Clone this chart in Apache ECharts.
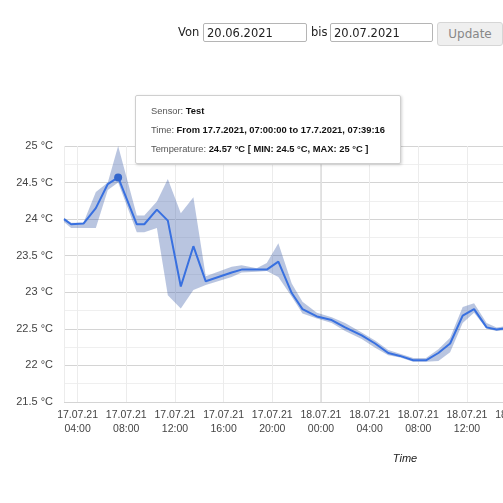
<!DOCTYPE html>
<html>
  <head>
    <meta charset="utf-8" />
    <title>Sensor</title>
    <script src="https://cdn.jsdelivr.net/npm/echarts@6/dist/echarts.min.js"></script>
    <style>
      body {
        margin: 0;
        background-color: #fff;
        overflow: hidden;
        width: 503px;
        height: 503px;
        position: relative;
      }
      .form span, .form input, .form button {
        position: absolute;
        font-family: "DejaVu Sans", Verdana, sans-serif;
        font-size: 11.5px;
        color: #222;
      }
      .form input {
        box-sizing: border-box;
        height: 19px;
        border: 1px solid #b5b5b5;
        border-radius: 2px;
        padding: 0 3px;
      }
      .form button {
        box-sizing: border-box;
        height: 24px;
        background: #efefef;
        border: 1px solid #d6d6d6;
        border-radius: 3px;
        color: #888;
        font-size: 12px;
      }
      #chart {
        position: absolute;
        left: 0;
        top: 0;
        width: 760px;
        height: 503px;
      }
    </style>
  </head>
  <body>
    <div id="chart"></div>
    <div class="form">
      <span style="left:178px; top:25px;">Von</span>
      <input style="left:203px; top:23px; width:104px;" value="20.06.2021" />
      <span style="left:311px; top:25px;">bis</span>
      <input style="left:330px; top:23px; width:103px;" value="20.07.2021" />
      <button style="left:437px; top:22px; width:66px;">Update</button>
    </div>
    <script>
      // Messzeitpunkte (Stundenmittel)
      var times = [
        '2021-07-17 02:53', '2021-07-17 03:28', '2021-07-17 04:29', '2021-07-17 05:30',
        '2021-07-17 06:29', '2021-07-17 07:20', '2021-07-17 08:52', '2021-07-17 09:29',
        '2021-07-17 10:31', '2021-07-17 11:25', '2021-07-17 12:29', '2021-07-17 13:31',
        '2021-07-17 14:32', '2021-07-17 16:40', '2021-07-17 17:29', '2021-07-17 18:43',
        '2021-07-17 19:33', '2021-07-17 20:30', '2021-07-17 21:36', '2021-07-17 22:29',
        '2021-07-17 23:40', '2021-07-18 00:53', '2021-07-18 01:59', '2021-07-18 03:21',
        '2021-07-18 04:27', '2021-07-18 05:32', '2021-07-18 06:30', '2021-07-18 07:35',
        '2021-07-18 08:38', '2021-07-18 09:39', '2021-07-18 10:37', '2021-07-18 11:39',
        '2021-07-18 12:35', '2021-07-18 13:37', '2021-07-18 14:26', '2021-07-18 15:40'
      ];
      var avgTemp = [
        24.00, 23.93, 23.94, 24.15, 24.48, 24.57, 23.93, 23.93,
        24.13, 23.98, 23.08, 23.63, 23.15, 23.27, 23.31, 23.31,
        23.31, 23.42, 22.99, 22.77, 22.67, 22.62, 22.52, 22.41,
        22.30, 22.17, 22.13, 22.07, 22.07, 22.17, 22.30, 22.68,
        22.77, 22.52, 22.49, 22.52
      ];
      var minTemp = [
        23.96, 23.88, 23.88, 23.88, 24.40, 24.50, 23.82, 23.82,
        23.88, 22.96, 22.78, 23.03, 23.10, 23.21, 23.27, 23.28,
        23.29, 23.21, 22.94, 22.71, 22.64, 22.58, 22.47, 22.36,
        22.24, 22.14, 22.11, 22.05, 22.05, 22.06, 22.18, 22.58,
        22.72, 22.50, 22.47, 22.49
      ];
      var maxTemp = [
        24.02, 23.95, 23.95, 24.37, 24.50, 25.00, 24.05, 24.05,
        24.24, 24.55, 24.08, 24.30, 23.22, 23.35, 23.37, 23.33,
        23.40, 23.67, 23.12, 22.87, 22.72, 22.66, 22.58, 22.45,
        22.34, 22.21, 22.16, 22.10, 22.10, 22.22, 22.38, 22.80,
        22.85, 22.58, 22.52, 22.55
      ];
      var xMin = '2021-07-17 02:53';
      var xMax = '2021-07-19 10:56';
      var dayLine = '2021-07-18 00:00';

      var fmt = function(n) { return (n < 10 ? '0' : '') + n; };

      var chart = echarts.init(document.getElementById('chart'));
      var option = {
        animation: false,
        textStyle: { fontFamily: '"Liberation Sans", Arial, sans-serif' },
        grid: { left: 64, top: 146, width: 682, height: 256 },
        tooltip: {
          trigger: 'item',
          triggerOn: 'none',
          alwaysShowContent: true,
          transitionDuration: 0,
          position: [135, 95],
          padding: [6, 15, 4, 15],
          backgroundColor: '#fff',
          borderColor: '#cfcfcf',
          borderWidth: 1,
          borderRadius: 2,
          extraCssText: 'box-shadow: 1px 1px 3px rgba(0,0,0,0.18);',
          formatter: function(p) {
            var i = p.dataIndex;
            var lab = 'color:#555;font-weight:normal;';
            return '<div style="font-family:\'Liberation Sans\',Arial;font-size:9.35px;line-height:19px;color:#111;white-space:nowrap;">' +
              '<span style="' + lab + '">Sensor: </span><b>Test</b><br/>' +
              '<span style="' + lab + '">Time: </span><b>From 17.7.2021, 07:00:00 to 17.7.2021, 07:39:16</b><br/>' +
              '<span style="' + lab + '">Temperature: </span><b>' + avgTemp[i] + ' °C [ MIN: ' + minTemp[i] +
              ' °C, MAX: ' + maxTemp[i] + ' °C ]</b></div>';
          }
        },
        xAxis: {
          type: 'time',
          min: xMin,
          max: xMax,
          minInterval: 4 * 3600 * 1000,
          maxInterval: 4 * 3600 * 1000,
          name: 'Time',
          nameLocation: 'middle',
          nameGap: 51,
          nameTextStyle: { fontStyle: 'italic', fontSize: 11, color: '#222' },
          axisLine: { show: false },
          axisTick: { show: false },
          axisLabel: {
            fontSize: 10.5,
            color: '#444',
            lineHeight: 14,
            margin: 6,
            showMinLabel: false,
            showMaxLabel: false,
            hideOverlap: false,
            formatter: function(v) {
              var d = new Date(v);
              if (d.getMinutes() !== 0 || d.getHours() % 4 !== 0) return '';
              return fmt(d.getDate()) + '.' + fmt(d.getMonth() + 1) + '.' + String(d.getFullYear()).slice(2) +
                '\n' + fmt(d.getHours()) + ':00';
            }
          },
          splitLine: { show: true, lineStyle: { color: '#ececec', width: 1 } }
        },
        yAxis: {
          type: 'value',
          min: 21.5,
          max: 25,
          interval: 0.5,
          axisLine: { show: false },
          axisTick: { show: false },
          axisLabel: { fontSize: 11, color: '#444', margin: 11, formatter: '{value} °C' },
          splitLine: { lineStyle: { color: '#d4d4d4' } },
          minorTick: { show: false, splitNumber: 2 },
          minorSplitLine: { show: true, lineStyle: { color: '#efefef' } }
        },
        series: [
          {
            name: 'min',
            type: 'line',
            stack: 'band',
            silent: true,
            symbol: 'none',
            z: 1,
            lineStyle: { opacity: 0 },
            data: times.map(function(t, i) { return [t, minTemp[i]]; }),
            markLine: {
              silent: true,
              symbol: 'none',
              z: 1,
              label: { show: false },
              lineStyle: { color: '#dddddd', width: 1.5, type: 'solid' },
              data: [{ xAxis: dayLine }]
            }
          },
          {
            name: 'range',
            type: 'line',
            stack: 'band',
            silent: true,
            symbol: 'none',
            z: 2,
            lineStyle: { opacity: 0 },
            areaStyle: { color: 'rgba(60,95,170,0.36)', opacity: 1 },
            data: times.map(function(t, i) { return [t, +(maxTemp[i] - minTemp[i]).toFixed(2)]; })
          },
          {
            name: 'Temperature',
            type: 'line',
            symbol: 'circle',
            symbolSize: 8,
            showSymbol: false,
            z: 3,
            itemStyle: { color: '#3366cc' },
            lineStyle: { color: '#3366cc', width: 2 },
            emphasis: { scale: false, lineStyle: { width: 2 } },
            data: times.map(function(t, i) { return [t, avgTemp[i]]; })
          }
        ]
      };
      chart.setOption(option);
      chart.dispatchAction({ type: 'highlight', seriesIndex: 2, dataIndex: 5 });
      chart.dispatchAction({ type: 'showTip', seriesIndex: 2, dataIndex: 5 });
    </script>
  </body>
</html>
